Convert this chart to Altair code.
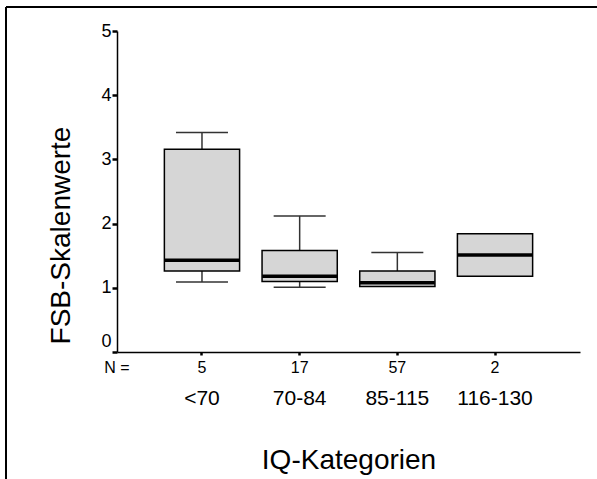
import altair as alt
import pandas as pd

# IQ categories, group sizes and box-plot statistics of the FSB scale scores
categories = ["<70", "70-84", "85-115", "116-130"]
group_n = [5, 17, 57, 2]
whisker_low = [1.09, 1.01, 1.02, 1.18]
quartile_1 = [1.26, 1.10, 1.02, 1.18]
medians = [1.43, 1.18, 1.08, 1.51]
quartile_3 = [3.16, 1.58, 1.26, 1.84]
whisker_high = [3.42, 2.12, 1.55, 1.84]
y_ticks = [0, 0.5, 1, 1.5, 2, 2.5, 3, 3.5, 4, 4.5, 5]

df = pd.DataFrame({
    "cat": categories,
    "n": group_n,
    "lo": whisker_low,
    "q1": quartile_1,
    "med": medians,
    "q3": quartile_3,
    "hi": whisker_high,
})

W, H = 463, 321
FONT = "Liberation Sans"

x_enc = alt.X(
    "cat:N",
    sort=categories,
    scale=alt.Scale(paddingInner=0, paddingOuter=0.37),
    axis=alt.Axis(
        title="IQ-Kategorien",
        titleY=116,
        titleBaseline="alphabetic",
        labels=False,
        tickSize=3,
        tickWidth=2.5,
    ),
)

y_scale = alt.Scale(domain=[0, 5], nice=False, zero=True)
y_axis = alt.Axis(
    title="FSB-Skalenwerte",
    titleX=-48,
    titleY=204,
    titleBaseline="alphabetic",
    values=y_ticks,
    format="d",
    labelExpr="datum.value % 1 === 0 ? datum.label : ''",
    labelFontSize=18,
    labelPadding=1,
    labelOffset=alt.ExprRef("datum.value === 0 ? -11 : 0"),
    tickSize=5,
    tickWidth=alt.ExprRef("datum.value % 1 === 0 ? 2.5 : 1"),
)
y_enc = alt.Y("q3:Q", scale=y_scale, axis=y_axis)

base = alt.Chart(df)
whisker_style = dict(color="#333333", opacity=1)

whisker_up = base.transform_filter("datum.hi > datum.q3").mark_rule(
    strokeWidth=1.5, **whisker_style
).encode(x=x_enc, y=y_enc, y2="hi:Q")

whisker_down = base.transform_filter("datum.lo < datum.q1").mark_rule(
    strokeWidth=1.5, **whisker_style
).encode(x=x_enc, y=alt.Y("lo:Q", scale=y_scale, axis=y_axis), y2="q1:Q")

cap_high = base.transform_filter("datum.hi > datum.q3").mark_tick(
    size=52, thickness=1.5, **whisker_style
).encode(x=x_enc, y=alt.Y("hi:Q", scale=y_scale, axis=y_axis))

cap_low = base.transform_filter("datum.lo < datum.q1").mark_tick(
    size=52, thickness=1.5, **whisker_style
).encode(x=x_enc, y=alt.Y("lo:Q", scale=y_scale, axis=y_axis))

boxes = base.mark_bar(
    width=alt.RelativeBandSize(0.77),
    fill="#d6d6d6",
    stroke="black",
    strokeWidth=1.5,
    opacity=1,
).encode(x=x_enc, y=alt.Y("q1:Q", scale=y_scale, axis=y_axis), y2="q3:Q")

median_lines = base.mark_tick(
    color="black", size=75, thickness=3.5, opacity=1
).encode(x=x_enc, y=alt.Y("med:Q", scale=y_scale, axis=y_axis))

n_labels = base.mark_text(
    fontSize=16, font=FONT, color="black", baseline="middle"
).encode(x=x_enc, y=alt.value(H + 16), text="n:N")

cat_labels = base.mark_text(
    fontSize=21, font=FONT, color="black", baseline="middle"
).encode(x=x_enc, y=alt.value(H + 47), text="cat:N")

frame_src = alt.Chart(alt.Data(values=[{"label": "N ="}]))

n_prefix = frame_src.mark_text(
    fontSize=16, font=FONT, color="black", baseline="middle", align="center"
).encode(x=alt.value(0), y=alt.value(H + 16), text="label:N")

frame_left = frame_src.mark_rule(color="black", strokeWidth=2).encode(
    x=alt.value(-111), y=alt.value(-24), y2=alt.value(H + 130)
)
frame_top = frame_src.mark_rule(color="black", strokeWidth=2).encode(
    x=alt.value(-111), x2=alt.value(W + 20), y=alt.value(-24)
)

chart = alt.layer(
    whisker_up, whisker_down, cap_high, cap_low, boxes, median_lines,
    n_labels, cat_labels, n_prefix, frame_left, frame_top,
).properties(
    width=W,
    height=H,
    autosize=alt.AutoSizeParams(type="none"),
    padding={"left": 117, "top": 31, "right": 17, "bottom": 127},
    background="white",
).configure_view(
    stroke=None
).configure_axis(
    labelFont=FONT,
    labelFontSize=18,
    labelColor="black",
    titleFont=FONT,
    titleFontSize=28,
    titleFontWeight="normal",
    titleColor="black",
    tickColor="black",
    domainColor="black",
    domainWidth=1.5,
    grid=False,
)

chart.save("out.html", embed_options={"renderer": "svg", "actions": False})
